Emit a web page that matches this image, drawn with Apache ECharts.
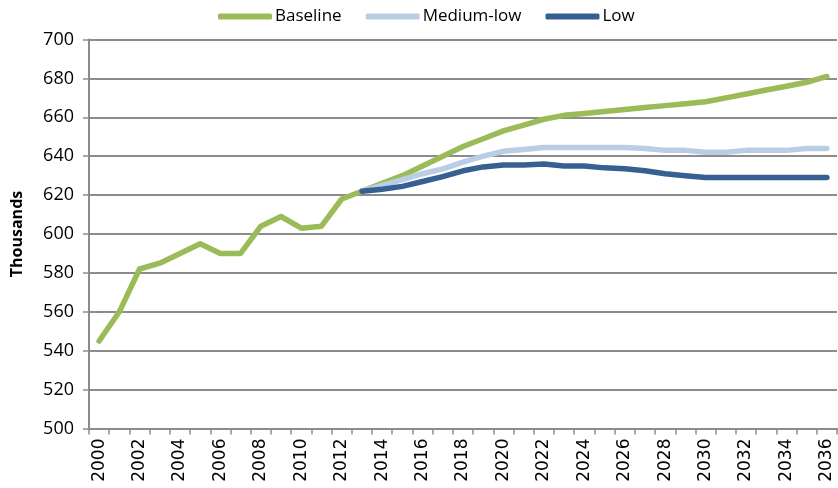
<!DOCTYPE html>
<html>
<head>
<meta charset="utf-8">
<script src="https://cdn.jsdelivr.net/npm/echarts@6/dist/echarts.min.js"></script>
<style>
  html, body { margin: 0; padding: 0; background: #fff; }
  #chart { width: 838px; height: 488px; }
</style>
</head>
<body>
<div id="chart"></div>
<script>
// Years on the category axis
const years = [];
for (let y = 2000; y <= 2036; y++) years.push(String(y));

// Population projections, thousands
const baseline = [545, 560, 582, 585, 590, 595, 590, 590, 604, 609,
                  603, 604, 618, 622, 626, 630, 635, 640, 645, 649,
                  653, 656, 659, 661, 662, 663, 664, 665, 666, 667,
                  668, 670, 672, 674, 676, 678, 681];
const mediumLow = [null, null, null, null, null, null, null, null, null, null,
                   null, null, null, 622, 625, 628, 631, 633.5, 637, 640,
                   642.5, 643.5, 644.5, 644.5, 644.5, 644.5, 644.5, 644, 643, 643,
                   642, 642, 643, 643, 643, 644, 644];
const low = [null, null, null, null, null, null, null, null, null, null,
             null, null, null, 622, 623, 624.5, 627, 629.5, 632.5, 634.5,
             635.5, 635.5, 636, 635, 635, 634, 633.5, 632.5, 631, 630,
             629, 629, 629, 629, 629, 629, 629];

const seriesNames = ['Baseline', 'Medium-low', 'Low'];
const seriesColors = ['#9BBB59', '#B9CDE5', '#376092'];
const seriesData = [baseline, mediumLow, low];

const gridColor = '#8C8C8C';
const font = 'Open Sans, DejaVu Sans, sans-serif';

const chart = echarts.init(document.getElementById('chart'), null, { renderer: 'canvas' });
chart.setOption({
  animation: false,
  backgroundColor: '#fff',
  legend: {
    top: 3,
    left: 213,
    itemWidth: 54,
    itemHeight: 6,
    itemGap: 24,
    icon: 'roundRect',
    textStyle: { fontFamily: font, fontSize: 17, color: '#000', padding: [0, 0, 0, -2] },
    data: seriesNames
  },
  grid: { left: 89, right: 1, top: 39.5, bottom: 59.5, containLabel: false },
  xAxis: {
    type: 'category',
    data: years,
    boundaryGap: true,
    axisLine: { lineStyle: { color: gridColor, width: 2 } },
    axisTick: { show: true, interval: 0, length: 6, lineStyle: { color: gridColor, width: 1.5 } },
    axisLabel: {
      interval: 1,
      rotate: 90,
      margin: 10,
      fontFamily: 'DejaVu Sans, sans-serif',
      fontSize: 17,
      color: '#000'
    },
    splitLine: { show: false }
  },
  yAxis: {
    type: 'value',
    min: 500,
    max: 700,
    interval: 20,
    name: 'Thousands',
    nameLocation: 'middle',
    nameGap: 64,
    nameRotate: 90,
    nameTextStyle: { fontFamily: font, fontSize: 16, fontWeight: 'bold', color: '#000' },
    axisLine: { show: true, lineStyle: { color: gridColor, width: 2 } },
    axisTick: { show: true, length: 6, lineStyle: { color: gridColor, width: 1.5 } },
    axisLabel: { margin: 15, fontFamily: font, fontSize: 18, color: '#000' },
    splitLine: { show: true, lineStyle: { color: gridColor, width: 2 } }
  },
  series: seriesNames.map((name, i) => ({
    name: name,
    type: 'line',
    data: seriesData[i],
    symbol: 'none',
    connectNulls: false,
    color: seriesColors[i],
    lineStyle: { width: 5.5, color: seriesColors[i], cap: 'round', join: 'round' }
  }))
});
</script>
</body>
</html>
